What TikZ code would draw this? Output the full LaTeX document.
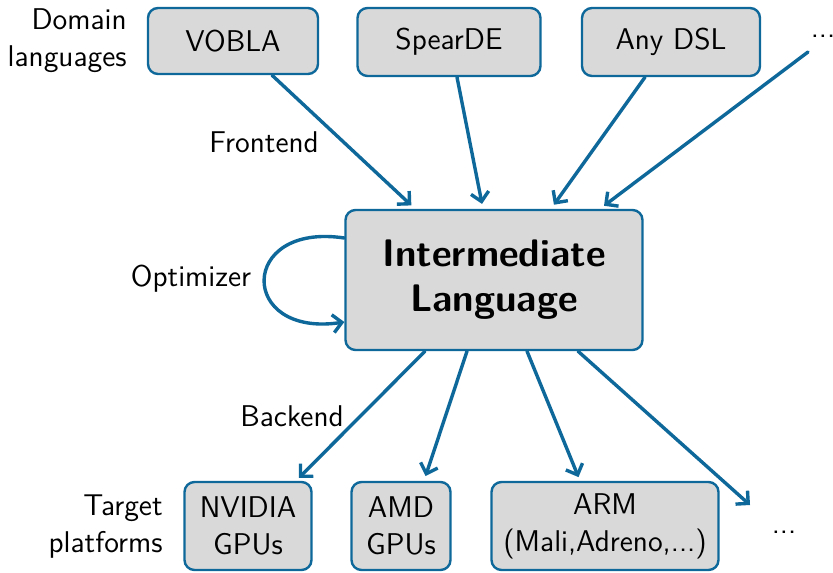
\documentclass[tikz,border=0pt]{standalone}
\usepackage{tikz}
\usetikzlibrary{calc,positioning,arrows.meta}
\usepackage{xcolor}
\definecolor{flowblue}{RGB}{14,104,154}
\definecolor{boxgray}{RGB}{217,217,217}

\begin{document}
\begin{tikzpicture}[
  x=0.5pt, y=-0.5pt,
  font=\sffamily\fontsize{15}{18.5}\selectfont,
  box/.style={draw=flowblue, fill=boxgray, line width=1.2pt, rounded corners=5pt,
    align=center, inner sep=0pt},
  flow/.style={draw=flowblue, line width=1.7pt, line cap=round,
    -{Straight Barb[length=4.5pt, width=9pt, line width=1.7pt]}},
  lbl/.style={inner sep=0pt, align=right}
]
\useasboundingbox (0,0) rectangle (833,572);

% ------------------------
% Domain languages (top row)
% ------------------------
\node[lbl, anchor=east] (domLbl) at (127,41) {Domain\\languages};
\node[box, minimum width=85pt, minimum height=33pt] (vobla) at (233,41) {VOBLA};
\node[box, minimum width=91.5pt, minimum height=34pt] (spearde) at (449,42) {SpearDE};
\node[box, minimum width=89pt, minimum height=34pt] (anydsl) at (671,42) {Any DSL};
\node[lbl] (dotsTop) at (823,36) {...};
\coordinate (dotsTopStart) at (808,52);

% Intermediate language
\node[box, minimum width=148.5pt, minimum height=70pt,
  font=\sffamily\bfseries\fontsize{19.2}{22.5}\selectfont] (il) at (494,280)
  {Intermediate\\Language};

% ------------------------
% Target platforms (bottom row)
% ------------------------
\node[lbl, anchor=east] (tgtLbl) at (163,527) {Target\\platforms};
\node[box, minimum width=63.5pt, minimum height=44pt] (nvidia) at (248,526) {NVIDIA\\GPUs};
\node[box, minimum width=49.5pt, minimum height=44pt] (amd) at (401,526) {AMD\\GPUs};
\node[box, minimum width=113.5pt, minimum height=44pt] (arm) at (605,526) {ARM\\(Mali,Adreno,...)};
\node[lbl] (dotsBot) at (784,532) {...};
\coordinate (dotsBotEnd) at (750,505);

% Phase labels
\node[lbl] (frontLbl) at (264,142) {Frontend};
\node[lbl] (optLbl) at (191,279) {Optimizer};
\node[lbl] (backLbl) at (292,416) {Backend};

% Frontend arrows
\draw[flow, shorten >=2.5pt] ($(vobla.south)+(39,0)$) -- ($(il.north)+(-79,0)$);
\draw[flow, shorten >=2.5pt] ($(spearde.south)+(8,0)$) -- ($(il.north)+(-11,0)$);
\draw[flow, shorten >=2.5pt] ($(anydsl.south)+(-26,0)$) -- ($(il.north)+(57,0)$);
\draw[flow, shorten >=2.5pt] (dotsTopStart) -- ($(il.north)+(106,0)$);

% Optimizer loop
\draw[flow] ($(il.west)+(0,-42)$) .. controls (238,222) and (238,338) .. ($(il.west)+(0,42)$);

% Backend arrows
\draw[flow, shorten >=2pt] ($(il.south)+(-69,0)$) -- ($(nvidia.north)+(48,0)$);
\draw[flow, shorten >=2.5pt] ($(il.south)+(-27,0)$) -- ($(amd.north)+(23,0)$);
\draw[flow, shorten >=2pt] ($(il.south)+(33,0)$) -- ($(arm.north)+(-25,0)$);
\draw[flow] ($(il.south)+(84,0)$) -- (dotsBotEnd);

\end{tikzpicture}
\end{document}
